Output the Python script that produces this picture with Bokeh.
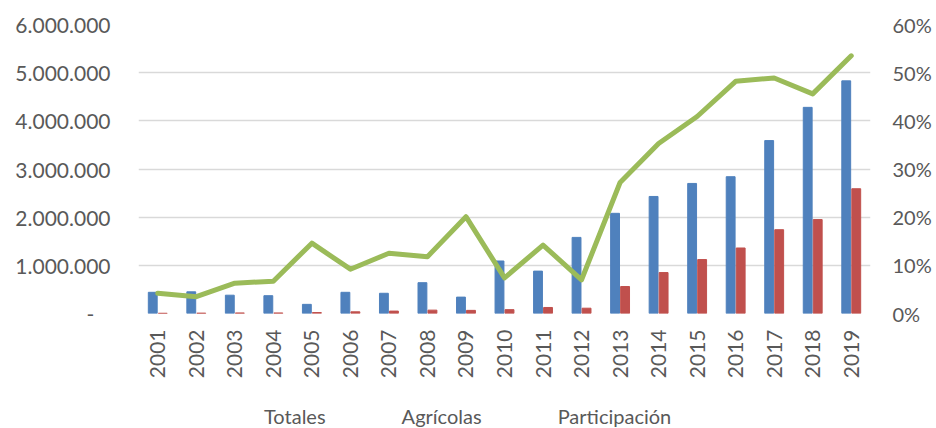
import math
from bokeh.plotting import figure
from bokeh.layouts import column
from bokeh.models import (ColumnDataSource, FactorRange, Range1d, LinearAxis,
                          FixedTicker, Legend, LegendItem, CDSView, IndexFilter)
from bokeh.transform import dodge
from bokeh.embed import file_html
from bokeh.resources import INLINE

years = [str(y) for y in range(2001, 2020)]
totales = [440000, 450000, 380000, 370000, 190000, 440000, 420000, 640000, 340000,
           1090000, 880000, 1580000, 2080000, 2430000, 2700000, 2840000, 3590000,
           4280000, 4830000]
agricolas = [5000, 8000, 12000, 12000, 20000, 35000, 50000, 70000, 65000,
             80000, 125000, 110000, 560000, 850000, 1120000, 1360000, 1740000,
             1950000, 2590000]
participacion = [0.042, 0.035, 0.063, 0.067, 0.146, 0.092, 0.125, 0.118, 0.201,
                 0.074, 0.142, 0.070, 0.272, 0.353, 0.409, 0.482, 0.489, 0.456,
                 0.535]
left_ticks = [0, 1000000, 2000000, 3000000, 4000000, 5000000, 6000000]
left_labels = ["-\u00a0\u00a0\u00a0", "1.000.000", "2.000.000", "3.000.000",
               "4.000.000", "5.000.000", "6.000.000"]
right_ticks = [0, 0.1, 0.2, 0.3, 0.4, 0.5, 0.6]
right_labels = ["0%", "10%", "20%", "30%", "40%", "50%", "60%"]
series_names = ["Totales", "Agrícolas", "Participación"]

FONT = "Lato"
TXT = "#595959"
GRID = "#D9D9D9"
BLUE, RED, GREEN = "#4F81BD", "#C0504D", "#9BBB59"

src = ColumnDataSource(dict(year=years, tot=totales, agr=agricolas, par=participacion))

p = figure(width=936, height=388, x_range=FactorRange(*years, range_padding=0),
           y_range=Range1d(0, 6000000), output_backend="svg",
           toolbar_location=None, min_border_left=138, min_border_right=66,
           min_border_top=24, min_border_bottom=75)
p.outline_line_color = None
p.extra_y_ranges = {"pct": Range1d(0, 0.6)}

p.vbar(x=dodge("year", -0.13, range=p.x_range), top="tot", width=0.23,
       source=src, fill_color=BLUE, line_color=BLUE)
p.vbar(x=dodge("year", 0.13, range=p.x_range), top="agr", width=0.23,
       source=src, fill_color=RED, line_color=RED)
p.line(x="year", y="par", source=src, y_range_name="pct",
       line_color=GREEN, line_width=5, line_join="round", line_cap="round")

p.xgrid.grid_line_color = None
p.ygrid.grid_line_color = GRID
p.ygrid.grid_line_width = 1.5
p.ygrid.ticker = FixedTicker(ticks=left_ticks)

yl = p.yaxis[0]
yl.ticker = FixedTicker(ticks=left_ticks)
yl.major_label_overrides = {t: l for t, l in zip(left_ticks, left_labels)}

yr = LinearAxis(y_range_name="pct", ticker=FixedTicker(ticks=right_ticks))
yr.major_label_overrides = {t: l for t, l in zip(right_ticks, right_labels)}
p.add_layout(yr, "right")

xa = p.xaxis[0]
xa.major_label_orientation = math.pi / 2

for ax in [yl, yr, xa]:
    ax.axis_line_color = None
    ax.major_tick_line_color = None
    ax.minor_tick_line_color = None
    ax.major_tick_out = 0
    ax.major_tick_in = 0
    ax.major_label_text_font = FONT
    ax.major_label_text_color = TXT
    ax.major_label_text_font_size = "20px"
yl.major_label_text_font_size = "21px"
xa.major_label_text_font_size = "21px"
yl.major_label_standoff = 28
yr.major_label_standoff = 22
xa.major_label_standoff = 16

# legend strip below the chart: its renderers share the data but an empty
# view draws none of it, so only the legend entries show
lg = figure(width=936, height=40, x_range=p.x_range, y_range=Range1d(-30, -29),
            output_backend="svg", toolbar_location=None,
            x_axis_type=None, y_axis_type=None,
            min_border_left=138, min_border_right=66, min_border_top=0,
            min_border_bottom=0)
lg.outline_line_color = None
lg.xgrid.grid_line_color = None
lg.ygrid.grid_line_color = None
r1 = lg.vbar(x="year", top="tot", width=0.23, source=src,
             view=CDSView(filter=IndexFilter(indices=[])),
             fill_color=BLUE, line_color=None)
r2 = lg.vbar(x="year", top="agr", width=0.23, source=src,
             view=CDSView(filter=IndexFilter(indices=[])),
             fill_color=RED, line_color=None)
r3 = lg.line(x="year", y="par", source=src,
             view=CDSView(filter=IndexFilter(indices=[])),
             line_color=GREEN, line_width=5, line_cap="round")

legend = Legend(items=[LegendItem(label=series_names[0], renderers=[r1]),
                       LegendItem(label=series_names[1], renderers=[r2]),
                       LegendItem(label=series_names[2], renderers=[r3])],
                orientation="horizontal", location=(77, 0),
                glyph_width=45, glyph_height=12, label_standoff=4, spacing=27,
                padding=0, margin=0, border_line_color=None,
                background_fill_alpha=0,
                label_text_font=FONT, label_text_color=TXT,
                label_text_font_size="20px")
lg.add_layout(legend, "center")

open("out.html", "w").write(file_html(column(p, lg, spacing=0), INLINE))
